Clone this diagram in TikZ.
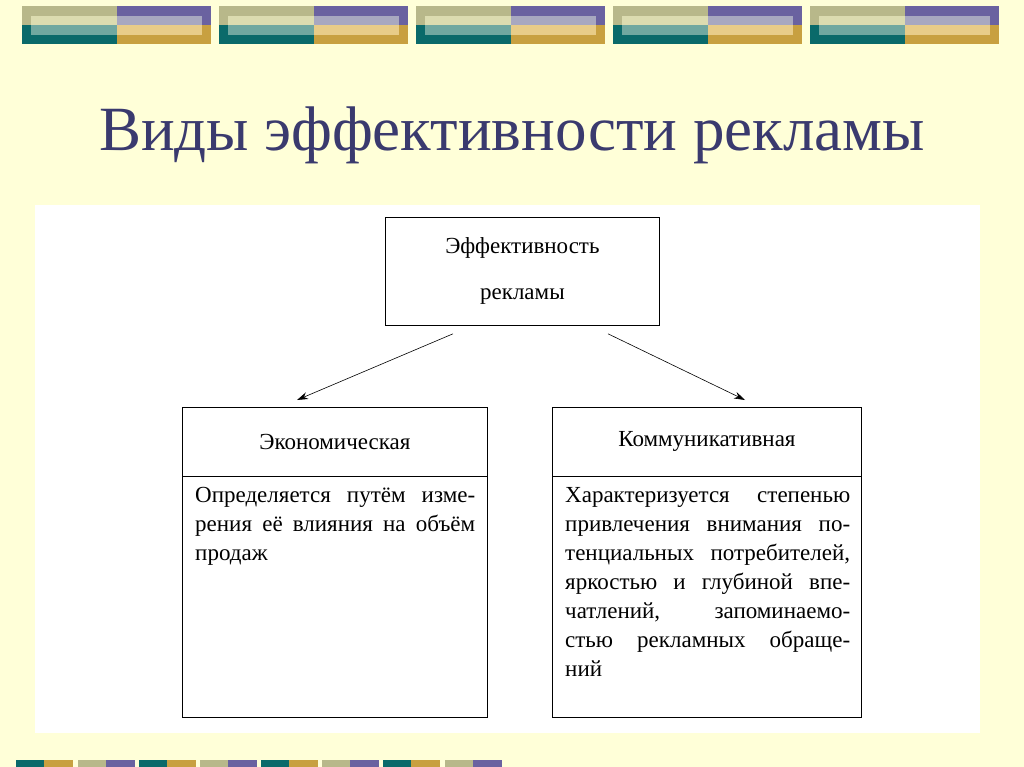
\documentclass[tikz,border=0pt]{standalone}
\usepackage{fontspec}
\setmainfont{Liberation Serif}
\usetikzlibrary{calc, arrows.meta}
\definecolor{bgcream}{HTML}{FFFFD8}
\definecolor{titlenavy}{HTML}{3A3A6E}
\definecolor{tkhaki}{HTML}{B8B88A}
\definecolor{tpurple}{HTML}{6A62A0}
\definecolor{tteal}{HTML}{0A6A6A}
\definecolor{tgold}{HTML}{C8A040}
\definecolor{lkhaki}{HTML}{DCDCB0}
\definecolor{llilac}{HTML}{A8A8C0}
\definecolor{lteal}{HTML}{70A8A0}
\definecolor{lgold}{HTML}{E8CC88}

\begin{document}
\begin{tikzpicture}[
    x=1pt, y=-1pt,
    >={Stealth[length=11pt, width=7pt]},
    box/.style={draw, thick, inner sep=0pt, anchor=north west},
    headtext/.style={font=\fontsize{23}{26}\selectfont},
    body/.style={anchor=north west, inner sep=0pt, align=left,
      font=\fontsize{23}{29}\selectfont}
  ]

  % --- BACKGROUND ---
  \fill[bgcream] (0,0) rectangle (1024,767);
  \useasboundingbox (0,0) rectangle (1024,767);
  \fill[white] (35,205) rectangle (980,733);

  % --- TOP TILES ---
  \foreach \x in {22,219,416,613,810} {
    \fill[tkhaki] (\x,6) rectangle (\x+95,25);
    \fill[tpurple] (\x+95,6) rectangle (\x+189,25);
    \fill[tteal] (\x,25) rectangle (\x+95,44);
    \fill[tgold] (\x+95,25) rectangle (\x+189,44);
    \fill[lkhaki] (\x+9,16) rectangle (\x+95,25);
    \fill[llilac] (\x+95,16) rectangle (\x+180,25);
    \fill[lteal] (\x+9,25) rectangle (\x+95,35);
    \fill[lgold] (\x+95,25) rectangle (\x+180,35);
  }

  % --- BOTTOM TILES ---
  \foreach \x [count=\i] in {16,78,139,200,261,322,383,445} {
    \ifodd\i
      \fill[tteal] (\x,760) rectangle (\x+28,767);
      \fill[tgold] (\x+28,760) rectangle (\x+57,767);
    \else
      \fill[tkhaki] (\x,760) rectangle (\x+28,767);
      \fill[tpurple] (\x+28,760) rectangle (\x+57,767);
    \fi
  }

  % --- TITLE ---
  \node[text=titlenavy, font=\fontsize{63}{70}\selectfont] (title) at (512,135)
    {Виды эффективности рекламы};

  % --- BOXES ---
  \node[box, minimum width=274pt, minimum height=108pt, headtext, align=center]
    (top) at (385,217) {Эффективность\\[20pt]рекламы};
  \node[box, minimum width=305pt, minimum height=69pt, headtext] (lhead) at (182,407) {Экономическая};
  \node[box, minimum width=305pt, minimum height=241pt] (lbody) at (182,476) {};
  \node[box, minimum width=309pt, minimum height=69pt, headtext] (rhead) at (552,407) {Коммуникативная};
  \node[box, minimum width=309pt, minimum height=241pt] (rbody) at (552,476) {};

  % --- TEXTS ---
  \node[body] (ltext) at (195,487) {%
    \makebox[280pt][s]{Определяется путём изме-}\\
    \makebox[280pt][s]{рения её влияния на объём}\\
    продаж};
  \node[body] (rtext) at (565,487) {%
    \makebox[285pt][s]{Характеризуется степенью}\\
    \makebox[285pt][s]{привлечения внимания по-}\\
    \makebox[285pt][s]{тенциальных потребителей,}\\
    \makebox[285pt][s]{яркостью и глубиной впе-}\\
    \makebox[285pt][s]{чатлений, запоминаемо-}\\
    \makebox[285pt][s]{стью рекламных обраще-}\\
    ний};

  % --- ARROWS ---
  \coordinate (lend) at ($(lhead.north west)+(115,-7)$);
  \coordinate (rend) at ($(rhead.north west)+(193,-7)$);
  \draw[->, semithick] ($(top.south west)+(68,8)$) -- (lend);
  \draw[->, semithick] ($(top.south west)+(223,8)$) -- (rend);

\end{tikzpicture}
\end{document}
